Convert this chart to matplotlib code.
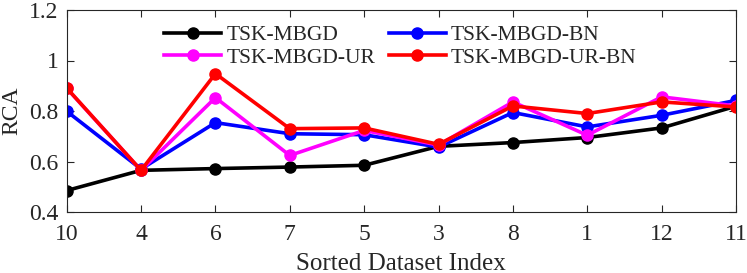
import matplotlib
matplotlib.use("Agg")
import matplotlib.pyplot as plt

datasets = ["10", "4", "6", "7", "5", "3", "8", "1", "12", "11"]
mbgd = [0.485, 0.565, 0.572, 0.578, 0.585, 0.660, 0.675, 0.695, 0.733, 0.819]
mbgd_bn = [0.799, 0.570, 0.754, 0.710, 0.706, 0.657, 0.794, 0.737, 0.783, 0.842]
mbgd_ur = [0.890, 0.565, 0.853, 0.624, 0.723, 0.665, 0.836, 0.704, 0.856, 0.820]
mbgd_ur_bn = [0.891, 0.565, 0.948, 0.730, 0.733, 0.668, 0.820, 0.790, 0.836, 0.816]
yticks = [0.4, 0.6, 0.8, 1.0, 1.2]
ytick_labels = ["0.4", "0.6", "0.8", "1", "1.2"]

plt.rcParams['font.family'] = ['Liberation Serif', 'DejaVu Serif']
W, H = 747, 273
fig = plt.figure(figsize=(W / 100, H / 100), dpi=100)
l, r, t, b = 66.7, 736.0, 10.0, 212.0
ax = fig.add_axes([l / W, 1 - b / H, (r - l) / W, (b - t) / H])

x = list(range(len(datasets)))
lw = 2.6
ms = 8
h1, = ax.plot(x, mbgd, '-o', color='k', lw=lw, ms=ms, label='TSK-MBGD')
h3, = ax.plot(x, mbgd_bn, '-o', color=(0, 0, 1), lw=lw, ms=ms, label='TSK-MBGD-BN')
h2, = ax.plot(x, mbgd_ur, '-o', color=(1, 0, 1), lw=lw, ms=ms, label='TSK-MBGD-UR')
h4, = ax.plot(x, mbgd_ur_bn, '-o', color=(1, 0, 0), lw=lw, ms=ms, label='TSK-MBGD-UR-BN')

ax.set_xlim(0, len(datasets) - 1)
ax.set_ylim(0.4, 1.2)
ax.set_xticks(x)
ax.set_xticklabels(datasets)
ax.set_yticks(yticks)
ax.set_yticklabels(ytick_labels)
ax.tick_params(direction='in', top=True, right=True, labelsize=17, length=5,
               width=0.8, color='#262626', labelcolor='#262626')
ax.tick_params(axis='x', pad=8.5)
ax.tick_params(axis='y', pad=6)
for s in ax.spines.values():
    s.set_linewidth(0.8)
    s.set_color('#262626')
ax.set_xlabel('Sorted Dataset Index', fontsize=18, color='#262626')
ax.set_ylabel('RCA', fontsize=17, color='#262626')
ax.xaxis.set_label_coords(0.5, -(263.5 - b) / (b - t), transform=ax.transAxes)
ax.xaxis.label.set_va('center')
ax.yaxis.set_label_coords(-(l - 11.5) / (r - l), 0.5, transform=ax.transAxes)
ax.yaxis.label.set_va('center')

leg = ax.legend(handles=[h1, h2, h3, h4], ncol=2, frameon=False, fontsize=15.5,
                loc='upper left', bbox_to_anchor=((145 - l) / (r - l), 1.02),
                handlelength=2.65, handletextpad=0.25, columnspacing=0.6,
                labelspacing=0.1)
for txt in leg.get_texts():
    txt.set_color('#262626')

fig.savefig('out.png', dpi=100)
